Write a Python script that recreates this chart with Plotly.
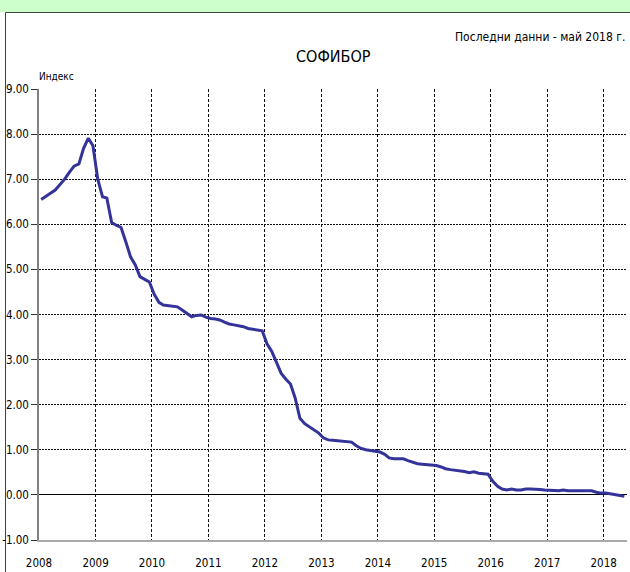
import pandas as pd
import plotly.graph_objects as go

# Monthly SOFIBOR index values, Jan 2008 - May 2018
v2008 = [6.55, 6.63, 6.69, 6.76, 6.87, 7.00, 7.15, 7.29, 7.34, 7.68, 7.91, 7.74]
v2009 = [7.00, 6.61, 6.58, 6.04, 5.98, 5.93, 5.62, 5.28, 5.10, 4.84, 4.78, 4.72]
v2010 = [4.45, 4.27, 4.21, 4.20, 4.19, 4.17, 4.10, 4.03, 3.95, 3.98, 3.99, 3.94]
v2011 = [3.91, 3.90, 3.88, 3.83, 3.79, 3.77, 3.75, 3.73, 3.69, 3.67, 3.65, 3.64]
v2012 = [3.35, 3.18, 2.95, 2.70, 2.57, 2.46, 2.15, 1.70, 1.58, 1.51, 1.44, 1.37]
v2013 = [1.26, 1.22, 1.21, 1.20, 1.19, 1.19, 1.17, 1.09, 1.03, 1.00, 0.98, 0.97]
v2014 = [0.95, 0.90, 0.82, 0.80, 0.80, 0.80, 0.76, 0.72, 0.69, 0.68, 0.67, 0.65]
v2015 = [0.65, 0.62, 0.58, 0.56, 0.55, 0.54, 0.52, 0.49, 0.51, 0.48, 0.47, 0.46]
v2016 = [0.30, 0.19, 0.13, 0.11, 0.13, 0.11, 0.11, 0.13, 0.13, 0.13, 0.12, 0.11]
v2017 = [0.11, 0.10, 0.09, 0.11, 0.09, 0.09, 0.09, 0.09, 0.09, 0.09, 0.06, 0.04]
v2018 = [0.04, 0.02, 0.01, -0.01, -0.03]

values = v2008 + v2009 + v2010 + v2011 + v2012 + v2013 + v2014 + v2015 + v2016 + v2017 + v2018
dates = [d + pd.Timedelta(days=14) for d in pd.date_range("2008-01-01", periods=len(values), freq="MS")]

year_ticks = [f"{y}-01-01" for y in range(2008, 2019)]
year_labels = [str(y) for y in range(2008, 2019)]
y_ticks = list(range(-1, 10))
y_labels = [f"{v:.2f}" for v in y_ticks]

FONT = "Liberation Sans Narrow, DejaVu Sans Condensed, DejaVu Sans, sans-serif"

def fnt(size):
    return dict(family=FONT, size=size, color="black")

fig = go.Figure()
fig.add_trace(go.Scatter(
    x=dates, y=values, mode="lines",
    line=dict(color="#333399", width=3),
    hoverinfo="skip", showlegend=False,
))

W, H = 630, 572
L, R, T, B = 39, 2.5, 89, 32
pw, ph = W - L - R, H - T - B

def px(xp):
    return (xp - L) / pw

def py(yp):
    return (H - B - yp) / ph

fig.update_layout(
    width=W, height=H,
    margin=dict(l=L, r=R, t=T, b=B),
    paper_bgcolor="white", plot_bgcolor="white",
    font=fnt(12),
    xaxis=dict(
        type="date",
        range=["2008-01-01", "2018-06-01"],
        tickvals=year_ticks, ticktext=year_labels,
        showgrid=True, gridcolor="#111111", gridwidth=1, griddash="3px,2px",
        showline=True, linecolor="#aaaaaa", linewidth=1.5,
        ticks="outside", ticklen=11, tickcolor="rgba(0,0,0,0)",
        tickfont=fnt(11.5),
        zeroline=False, fixedrange=True,
    ),
    yaxis=dict(
        range=[-1, 9],
        tickvals=y_ticks, ticktext=y_labels,
        showgrid=True, gridcolor="#111111", gridwidth=1, griddash="2px,1px",
        showline=True, linecolor="#808080", linewidth=1.5,
        ticks="outside", ticklen=6, tickcolor="#333333",
        tickfont=fnt(11.5),
        zeroline=True, zerolinecolor="black", zerolinewidth=1.2,
        fixedrange=True,
    ),
    shapes=[
        dict(type="rect", xref="paper", yref="paper",
             x0=px(0), x1=px(W + 5), y0=py(12), y1=py(-2),
             fillcolor="#ccffcc", line=dict(width=0), layer="below"),
        dict(type="rect", xref="paper", yref="paper",
             x0=px(5.5), x1=px(W + 5), y0=py(H + 5), y1=py(12.5),
             fillcolor="rgba(0,0,0,0)", line=dict(color="#404040", width=1), layer="below"),
    ],
    annotations=[
        dict(text="СОФИБОР", xref="paper", yref="paper",
             x=px(333.5), y=py(57), xanchor="center", yanchor="middle",
             showarrow=False, font=fnt(16)),
        dict(text="Последни данни - май 2018 г.", xref="paper", yref="paper",
             x=px(628), y=py(37), xanchor="right", yanchor="middle",
             showarrow=False, font=fnt(12)),
        dict(text="Индекс", xref="paper", yref="paper",
             x=px(37), y=py(76), xanchor="left", yanchor="middle",
             showarrow=False, font=fnt(10)),
    ],
)

fig.write_html(
    "out.html",
    config={"displayModeBar": False},
    post_script="document.body.style.margin='0';document.body.style.overflow='hidden';",
)
